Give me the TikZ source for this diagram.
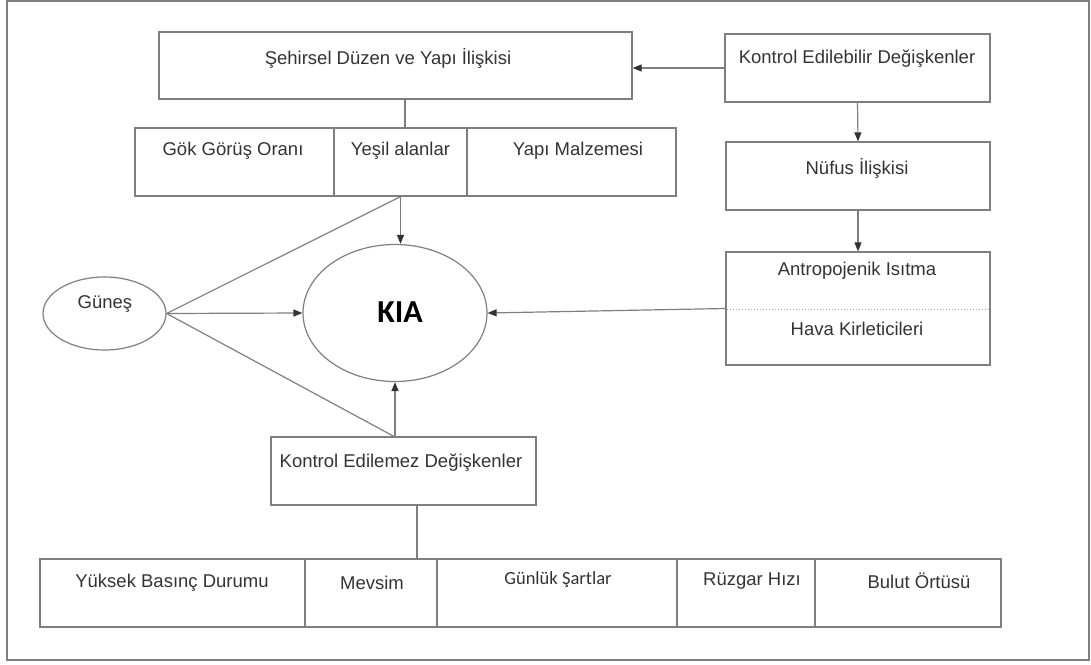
\documentclass[tikz,border=0pt]{standalone}
\usepackage{fontspec}
\setmainfont{Liberation Sans}
\newfontfamily\calib{Carlito}
\usetikzlibrary{arrows.meta,shapes.geometric}
\definecolor{ln}{HTML}{7F7F7F}
\definecolor{tx}{HTML}{333333}
\begin{document}
\begin{tikzpicture}[x=1pt,y=-1pt,
  box/.style={draw=ln, line width=1.2pt, rectangle, inner sep=0pt},
  oval/.style={draw=ln, line width=1.2pt, ellipse, inner sep=0pt},
  txt/.style={text=tx, inner sep=0pt, font=\fontsize{18.5}{22}\selectfont},
  ctxt/.style={text=tx, inner sep=0pt, font=\calib\fontsize{18.5}{22}\selectfont},
  conn/.style={draw=ln, line width=1.2pt},
  arr/.style={conn, -{Triangle[length=9pt,width=7pt,color=tx]}}]
\useasboundingbox (0,0) rectangle (1091,664);
\node[box, minimum width=1082pt, minimum height=659pt] (frame) at (548,330.5) {};
% top boxes
\node[box, minimum width=473pt, minimum height=67pt] (sehir) at (395.5,65.5) {};
\node[box, minimum width=199pt, minimum height=68pt] (gok) at (234.5,162) {};
\node[box, minimum width=133pt, minimum height=68pt] (yesil) at (400.5,162) {};
\node[box, minimum width=209pt, minimum height=68pt] (yapi) at (571.5,162) {};
% right column
\node[box, minimum width=265pt, minimum height=68pt] (kebil) at (857.5,68) {};
\node[box, minimum width=264pt, minimum height=68pt] (nufus) at (858,176) {};
\node[box, minimum width=264pt, minimum height=113pt] (antro) at (858,308.5) {};
\draw[ln!70, line width=1pt, dotted] ([xshift=2pt]antro.west |- 0,309) -- ([xshift=-2pt]antro.east |- 0,309);
% ellipses
\node[oval, minimum width=184pt, minimum height=137pt] (kia) at (395,313) {};
\node[oval, minimum width=123pt, minimum height=73pt] (gunes) at (104.5,313.5) {};
% uncontrollable
\node[box, minimum width=265pt, minimum height=68pt] (kedem) at (403.5,471) {};
\node[box, minimum width=265pt, minimum height=68pt] (yuksek) at (172.5,593) {};
\node[box, minimum width=132pt, minimum height=68pt] (mevsim) at (371,593) {};
\node[box, minimum width=240pt, minimum height=68pt] (gunluk) at (557,593) {};
\node[box, minimum width=138pt, minimum height=68pt] (ruzgar) at (746,593) {};
\node[box, minimum width=186pt, minimum height=68pt] (bulut) at (908,593) {};
\coordinate (ab) at (395,437);
\coordinate (kd) at (417,505);
\coordinate (sd) at (405,99);
% texts
\node[txt] (t1) at (388,58) {Şehirsel Düzen ve Yapı İlişkisi};
\node[txt] (t2) at (233,151) {Gök Görüş Oranı};
\node[txt] (t3) at (400.5,151) {Yeşil alanlar};
\node[txt] (t4) at (578,151) {Yapı Malzemesi};
\node[txt] (t5) at (857,59) {Kontrol Edilebilir Değişkenler};
\node[txt] (t6) at (857,168) {Nüfus İlişkisi};
\node[txt] (t7) at (857,271) {Antropojenik Isıtma};
\node[txt] (t8) at (857,329) {Hava Kirleticileri};
\node[text=black, inner sep=0pt, font=\calib\bfseries\fontsize{32}{36}\selectfont] (t9) at (400,312) {KIA};
\node[txt] (t10) at (105,304) {Güneş};
\node[txt] (t11) at (401,463) {Kontrol Edilemez Değişkenler};
\node[txt] (t12) at (172,583) {Yüksek Basınç Durumu};
\node[txt] (t13) at (372,583) {Mevsim};
\node[ctxt] (t14) at (558,580) {Günlük Şartlar};
\node[txt] (t15) at (752,581) {Rüzgar Hızı};
\node[txt] (t16) at (919,581) {Bulut Örtüsü};
% connectors
\draw[conn] (sd) -- (sd |- yesil.north);
\draw[arr] (kebil.west) -- (kebil.west -| sehir.east);
\draw[arr] (kebil.south) -- (nufus.north);
\draw[arr] (nufus.south) -- (antro.north);
\draw[arr] (antro.west) -- (kia.east);
\draw[conn] (gunes.east) -- (yesil.south);
\draw[conn] (gunes.east) -- (ab);
\draw[arr] (gunes.east) -- (kia.west);
\draw[arr] (yesil.south) -- (yesil.south |- kia.north);
\draw[arr] (ab) -- (kia.south);
\draw[conn] (kd) -- (kd |- mevsim.north);
\end{tikzpicture}
\end{document}
